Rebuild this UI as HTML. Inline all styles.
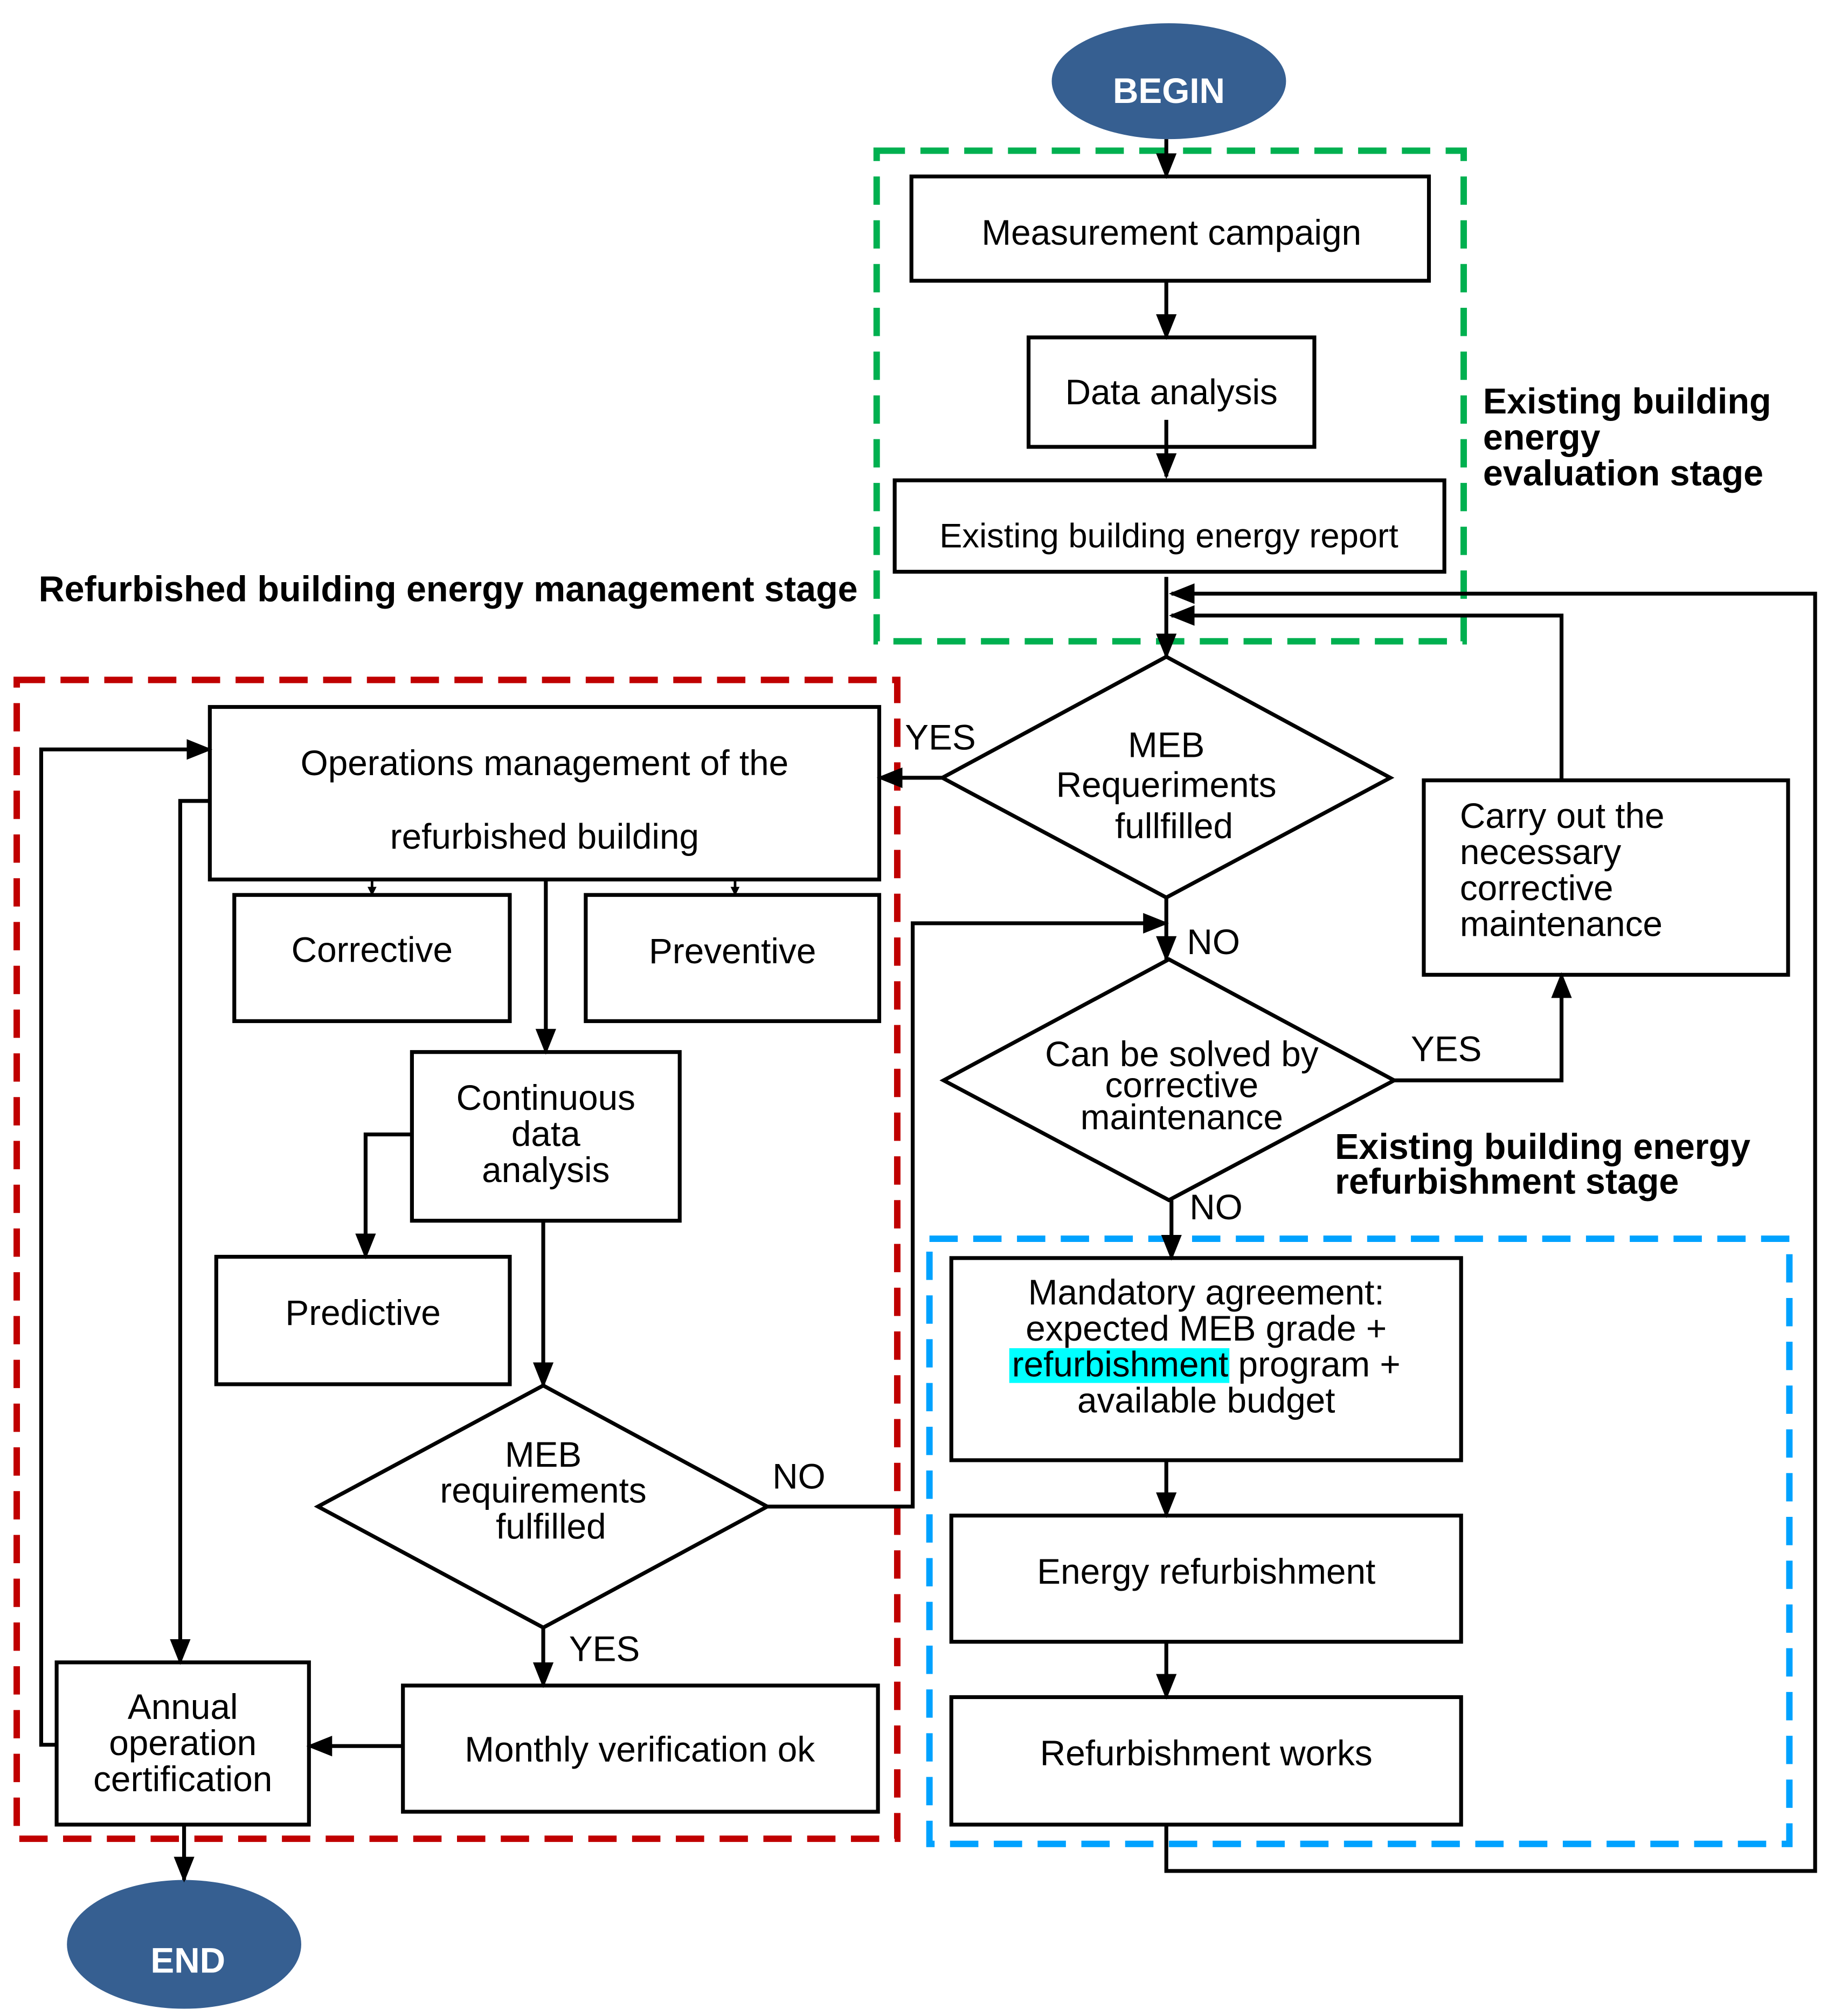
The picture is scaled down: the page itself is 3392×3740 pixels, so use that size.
<!DOCTYPE html>
<html><head><meta charset="utf-8"><style>html,body{margin:0;padding:0;background:#fff}svg{display:block}</style></head>
<body>
<svg xmlns="http://www.w3.org/2000/svg" width="3392" height="3740" viewBox="0 0 1420 1565.6" font-family="Liberation Sans, Arial, sans-serif">
<defs>
<marker id="a" viewBox="0 0 10 10" refX="9" refY="5" markerWidth="7" markerHeight="7" markerUnits="userSpaceOnUse" orient="auto"><path d="M0,0L10,5L0,10z" fill="#000"/></marker>
<marker id="b" viewBox="0 0 10 10" refX="9" refY="5" markerWidth="20" markerHeight="20" markerUnits="userSpaceOnUse" orient="auto"><path d="M0,1L10,5L0,9z" fill="#000"/></marker>
</defs>
<rect width="1420" height="1566" fill="#fff"/>
<rect x="681" y="117" width="456" height="381" fill="none" stroke="#00b050" stroke-width="5" stroke-dasharray="22,12"/>
<rect x="13" y="528" width="684" height="900" fill="none" stroke="#c00000" stroke-width="5" stroke-dasharray="22,12"/>
<rect x="722" y="962" width="668" height="470" fill="none" stroke="#00a2ff" stroke-width="5" stroke-dasharray="22,12"/>

<g fill="#fff" stroke="#000" stroke-width="3">
<rect x="708" y="137" width="402" height="81"/>
<rect x="799" y="262" width="222" height="85"/>
<rect x="695" y="373" width="427" height="71"/>
<rect x="163" y="549" width="520" height="134"/>
<rect x="182" y="695" width="214" height="98"/>
<rect x="455" y="695" width="228" height="98"/>
<rect x="320" y="817" width="208" height="131"/>
<rect x="168" y="976" width="228" height="99"/>
<polygon points="422,1076 596,1170 422,1264 247,1170"/>
<rect x="44" y="1291" width="196" height="126"/>
<rect x="313" y="1309" width="369" height="98"/>
<polygon points="906,510 1080,604 906,697 732,604"/>
<rect x="1106" y="606" width="283" height="151"/>
<polygon points="908,745 1083,839 908,932 733,839"/>
<rect x="739" y="977" width="396" height="157"/>
<rect x="739" y="1177" width="396" height="98"/>
<rect x="739" y="1318" width="396" height="99"/>
</g>
<ellipse cx="908" cy="63" rx="91" ry="45" fill="#365f91"/>
<ellipse cx="143" cy="1510" rx="91" ry="50" fill="#365f91"/>

<g fill="none" stroke="#000" stroke-width="3" marker-end="url(#b)">
<path d="M906,108V137"/>
<path d="M906,218V262"/>
<path d="M906,326V370"/>
<path d="M906,448V510"/>
<path d="M906,1417V1453H1410V461H910"/>
<path d="M1213,606V478H910"/>
<path d="M732,604H683"/>
<path d="M906,697V745"/>
<path d="M1083,839H1213V757"/>
<path d="M910,932V977"/>
<path d="M906,1134V1177"/>
<path d="M906,1275V1318"/>
<path d="M596,1170H709V717H906"/>
<path d="M424,683V817"/>
<path d="M320,881H284V976"/>
<path d="M422,948V1076"/>
<path d="M422,1264V1309"/>
<path d="M313,1356H240"/>
<path d="M163,622H140V1291"/>
<path d="M44,1355H32V582H163"/>
<path d="M143,1417V1460"/>
</g>
<g fill="none" stroke="#000" stroke-width="2" marker-end="url(#a)">
<path d="M289,683V695"/>
<path d="M571,683V695"/>
</g>

<rect x="784" y="1047" width="171" height="27" fill="#00ffff"/>
<g font-size="27.5" fill="#000" text-anchor="middle">
<text x="908" y="80" fill="#fff" font-weight="bold">BEGIN</text>
<text x="146" y="1532" fill="#fff" font-weight="bold">END</text>
<text x="910" y="190">Measurement campaign</text>
<text x="910" y="314">Data analysis</text>
<text x="908" y="425" font-size="26.5">Existing building energy report</text>
<text x="423" y="602">Operations management of the</text>
<text x="423" y="659">refurbished building</text>
<text x="289" y="747">Corrective</text>
<text x="569" y="748">Preventive</text>
<text x="424" y="862">Continuous</text><text x="424" y="890">data</text><text x="424" y="918">analysis</text>
<text x="282" y="1029">Predictive</text>
<text x="422" y="1139">MEB</text><text x="422" y="1167">requirements</text><text x="428" y="1195">fulfilled</text>
<text x="142" y="1335">Annual</text><text x="142" y="1363">operation</text><text x="142" y="1391">certification</text>
<text x="497" y="1368">Monthly verification ok</text>
<text x="906" y="588">MEB</text><text x="906" y="619">Requeriments</text><text x="912" y="651">fullfilled</text>
<text x="918" y="828">Can be solved by</text><text x="918" y="852">corrective</text><text x="918" y="877">maintenance</text>
<text x="937" y="1013">Mandatory agreement:</text><text x="937" y="1041">expected MEB grade +</text><text x="937" y="1069">refurbishment program +</text><text x="937" y="1097">available budget</text>
<text x="937" y="1230">Energy refurbishment</text>
<text x="937" y="1371">Refurbishment works</text>
</g>
<g font-size="27.5" fill="#000">
<text x="1134" y="643">Carry out the</text><text x="1134" y="671">necessary</text><text x="1134" y="699">corrective</text><text x="1134" y="727">maintenance</text>
<text x="703" y="582">YES</text>
<text x="922" y="741">NO</text>
<text x="1096" y="824">YES</text>
<text x="924" y="947">NO</text>
<text x="600" y="1156">NO</text>
<text x="442" y="1290">YES</text>
</g>
<g font-size="27.8" font-weight="bold" fill="#000">
<text x="1152" y="321">Existing building</text><text x="1152" y="349">energy</text><text x="1152" y="377">evaluation stage</text>
<text x="30" y="467">Refurbished building energy management stage</text>
<text x="1037" y="900">Existing building energy</text><text x="1037" y="927">refurbishment stage</text>
</g>
</svg>
</body></html>
